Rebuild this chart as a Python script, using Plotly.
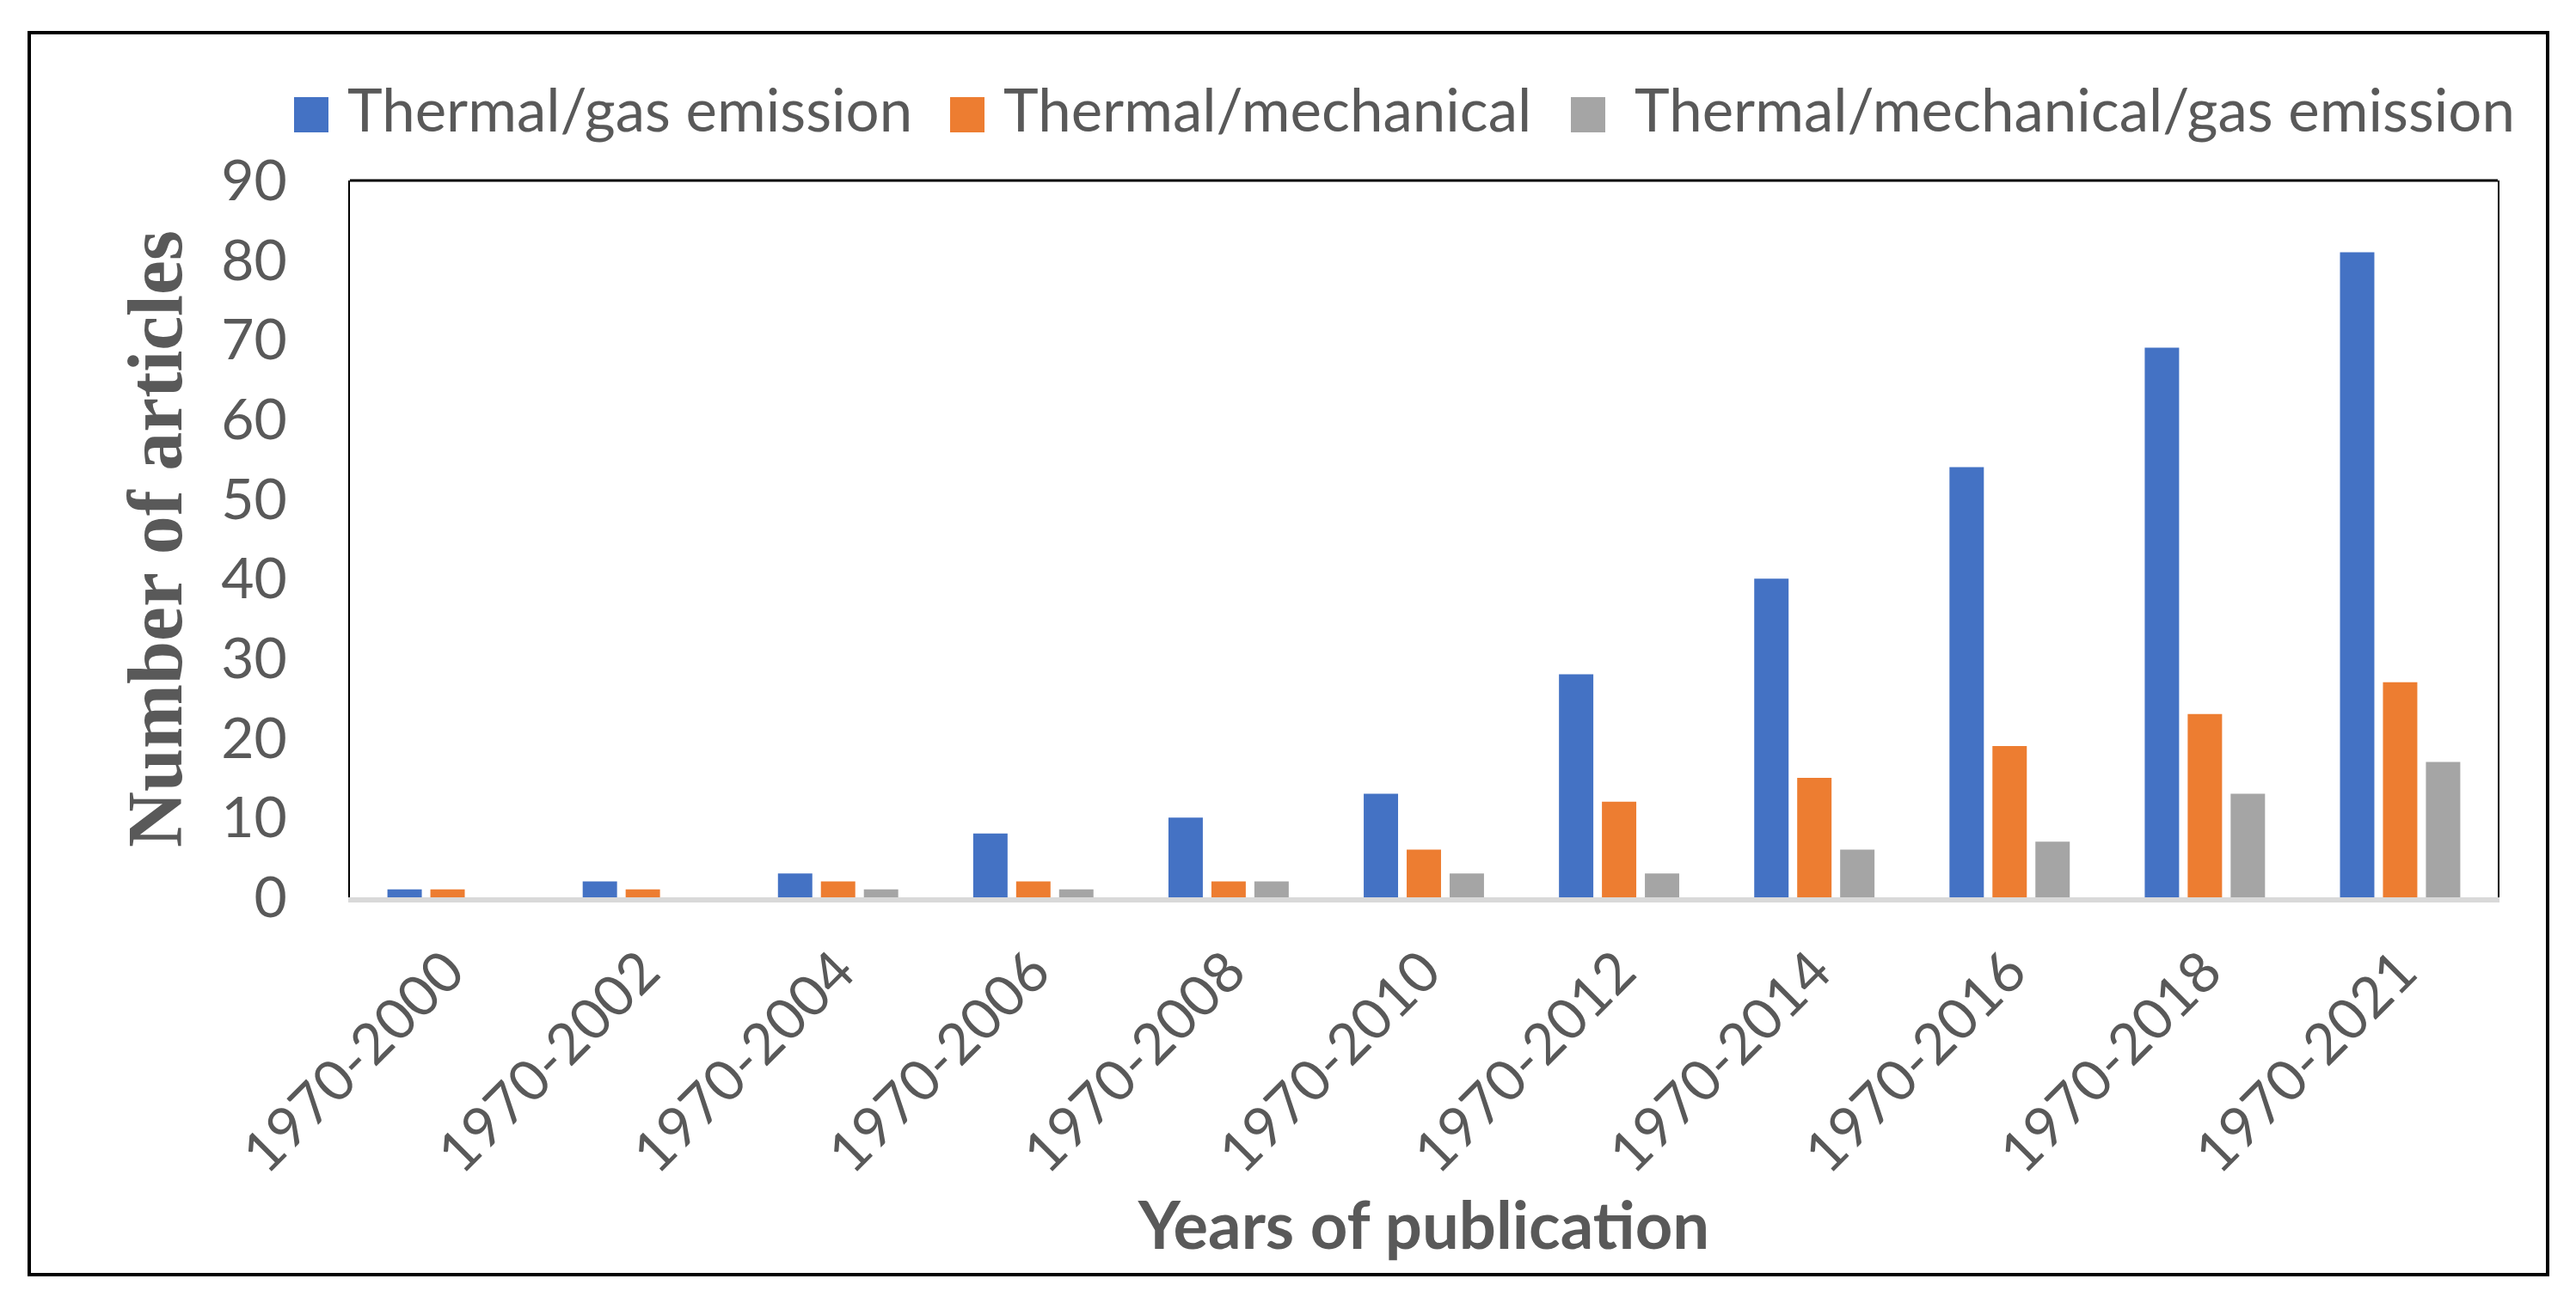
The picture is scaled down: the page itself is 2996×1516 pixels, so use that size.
import plotly.graph_objects as go

categories = ["1970-2000", "1970-2002", "1970-2004", "1970-2006", "1970-2008", "1970-2010",
              "1970-2012", "1970-2014", "1970-2016", "1970-2018", "1970-2021"]
thermal_gas = [1, 2, 3, 8, 10, 13, 28, 40, 54, 69, 81]
thermal_mech = [1, 1, 2, 2, 2, 6, 12, 15, 19, 23, 27]
thermal_mech_gas = [0, 0, 1, 1, 2, 3, 3, 6, 7, 13, 17]
series_names = ["Thermal/gas emission", "Thermal/mechanical", "Thermal/mechanical/gas emission"]
series_colors = ["#4472C4", "#ED7D31", "#A5A5A5"]
y_ticks = [0, 10, 20, 30, 40, 50, 60, 70, 80, 90]

TXT = "#595959"
OFF = 8  # body margin of the html page
W, H = 2996 - 2 * OFF, 1516 - 2 * OFF
PL, PR, PT, PB = 407, 2905, 210, 1044  # plot area in page pixels
PW, PH = PR - PL, PB - PT


def xp(X):
    return (X - PL) / PW


def yp(Y):
    return (PB - Y) / PH


fig = go.Figure()
for name, vals, col in zip(series_names, [thermal_gas, thermal_mech, thermal_mech_gas], series_colors):
    fig.add_trace(go.Bar(x=categories, y=vals, name=name, marker=dict(color=col, line=dict(width=0)),
                         showlegend=False))

shapes = [
    # outer frame
    dict(type="rect", xref="paper", yref="paper", x0=xp(34), x1=xp(2963), y0=yp(1483), y1=yp(38),
         line=dict(color="black", width=4), fillcolor="rgba(0,0,0,0)", layer="below"),
    # top border of plot area
    dict(type="line", xref="paper", yref="paper", x0=0, x1=1, y0=1, y1=1,
         line=dict(color="black", width=3)),
]
annotations = []
legend_sq_x = [342, 1105, 1827]
legend_txt_x = [402, 1165, 1899]
for sx, tx, name, col in zip(legend_sq_x, legend_txt_x, series_names, series_colors):
    shapes.append(dict(type="rect", xref="paper", yref="paper", x0=xp(sx), x1=xp(sx + 40),
                       y0=yp(154), y1=yp(113), line=dict(width=0), fillcolor=col))
    annotations.append(dict(text=name, xref="paper", yref="paper", x=xp(tx), y=yp(127),
                            xanchor="left", yanchor="middle", showarrow=False,
                            font=dict(family="Lato", size=69, color=TXT)))

fig.update_layout(
    width=W, height=H,
    margin=dict(l=PL - OFF, r=(OFF + W) - PR, t=PT - OFF, b=(OFF + H) - PB, autoexpand=False),
    paper_bgcolor="white", plot_bgcolor="white",
    barmode="group", bargap=0.34, bargroupgap=0.2,
    showlegend=False,
    shapes=shapes, annotations=annotations,
    xaxis=dict(
        showgrid=False, showline=True, linecolor="#D9D9D9", linewidth=6,
        tickangle=-45, tickfont=dict(family="Lato", size=66, color=TXT),
        ticks="", ticklabelstandoff=15, automargin=False,
        title=dict(text="Years of publication", standoff=24,
                   font=dict(family="Lato", size=76, color=TXT, weight="bold")),
    ),
    yaxis=dict(
        range=[0, 90], tickvals=y_ticks, showgrid=False, zeroline=False,
        showline=True, linecolor="black", linewidth=2, mirror=True,
        tickfont=dict(family="Lato", size=66, color=TXT), ticks="", ticklabelstandoff=58,
        automargin=False,
        title=dict(text="Number of articles", standoff=16,
                   font=dict(family="Liberation Serif", size=90, color=TXT, weight="bold")),
    ),
)

fig.write_html("out.html")
